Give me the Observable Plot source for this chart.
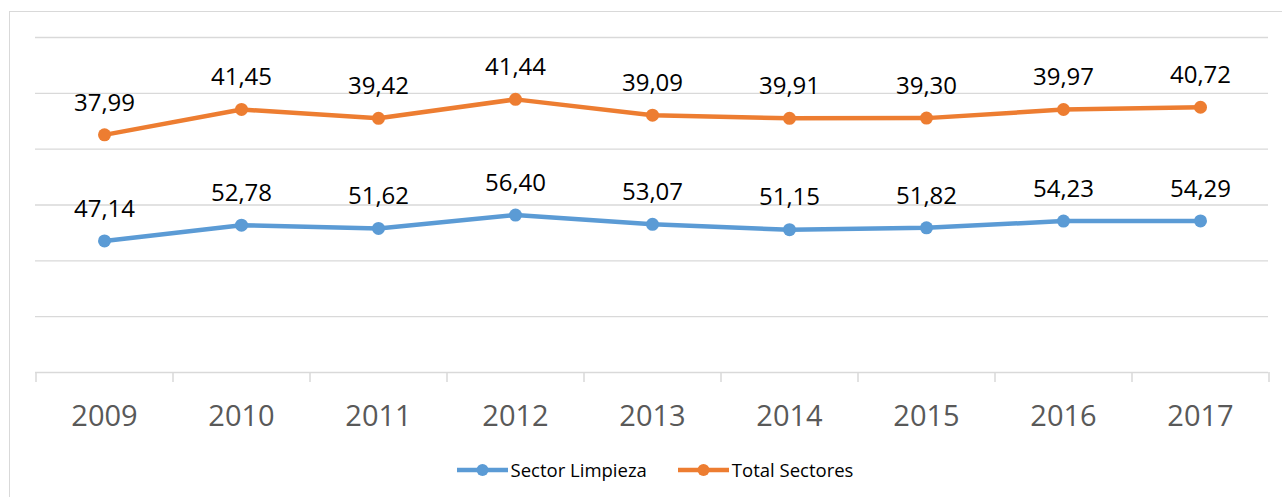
<!DOCTYPE html>
<html>
<head>
<meta charset="utf-8">
<script src="https://cdn.jsdelivr.net/npm/d3@7"></script>
<script src="https://cdn.jsdelivr.net/npm/@observablehq/plot@0.6"></script>
<style>
  html, body { margin: 0; padding: 0; background: #fff; }
  body { width: 1282px; height: 497px; overflow: hidden; position: relative; font-family: "Open Sans", sans-serif; }
  #frame { position: absolute; left: 9px; top: 11px; width: 1300px; height: 520px; border: 1px solid #d9d9d9; box-sizing: border-box; pointer-events: none; }
  #chart { position: absolute; left: 0; top: 0; }
  #legend { position: absolute; left: 0; top: 457px; width: 1282px; display: flex; justify-content: center; gap: 31px; padding-left: 28px; box-sizing: border-box; font-size: 18.5px; color: #000; }
  .item { display: flex; align-items: center; gap: 3px; }
</style>
</head>
<body>
<div id="frame"></div>
<div id="chart"></div>
<div id="legend"></div>
<script>
const years = ["2009","2010","2011","2012","2013","2014","2015","2016","2017"];
const seriesNames = ["Sector Limpieza", "Total Sectores"];
const seriesColors = ["#5B9BD5", "#ED7D31"];
const sectorLimpieza = [47.14, 52.78, 51.62, 56.40, 53.07, 51.15, 51.82, 54.23, 54.29];
const totalSectores = [37.99, 41.45, 39.42, 41.44, 39.09, 39.91, 39.30, 39.97, 40.72];
const yTicks = [0, 20, 40, 60, 80, 100, 120];

const data = [];
[sectorLimpieza, totalSectores].forEach((vals, i) => {
  vals.forEach((v, j) => data.push({year: years[j], value: v, series: seriesNames[i]}));
});
const fmt = v => v.toFixed(2).replace(".", ",");

const W = 1282, mL = 35, mR = 14;
const step = (W - mL - mR) / years.length;

const chart = Plot.plot({
  width: W,
  height: 440,
  marginLeft: mL,
  marginRight: mR,
  marginTop: 37,
  marginBottom: 68,
  style: {fontFamily: "Open Sans, sans-serif", background: "transparent", overflow: "visible"},
  x: {type: "point", domain: years, padding: 0.5, label: null},
  y: {domain: [0, 120], axis: null, label: null},
  color: {domain: seriesNames, range: seriesColors},
  marks: [
    Plot.ruleY(yTicks.slice(1), {stroke: "#d9d9d9", strokeWidth: 1.3, strokeOpacity: 1}),
    Plot.ruleY([0], {stroke: "#d9d9d9", strokeWidth: 1.5, strokeOpacity: 1}),
    Plot.axisX({tickSize: 10, dx: -step / 2, tickFormat: () => "", label: null, stroke: "#d9d9d9", strokeWidth: 1.5, strokeOpacity: 1}),
    Plot.axisX({ticks: [years[years.length - 1]], tickSize: 10, dx: step / 2, tickFormat: () => "", label: null, stroke: "#d9d9d9", strokeWidth: 1.5, strokeOpacity: 1}),
    Plot.axisX({tickSize: 0, tickPadding: 33, fontSize: 29, fill: "#595959", label: null}),
    Plot.lineY(data, Plot.stackY2({x: "year", y: "value", z: "series", stroke: "series", strokeWidth: 4.5, curve: "linear"})),
    Plot.dot(data, Plot.stackY2({x: "year", y: "value", z: "series", fill: "series", r: 6.5})),
    Plot.text(data, Plot.stackY2({x: "year", y: "value", z: "series", text: d => fmt(d.value), dy: -32, fontSize: 24, fill: "#000"}))
  ]
});
document.getElementById("chart").appendChild(chart);

const legend = document.getElementById("legend");
seriesNames.forEach((name, i) => {
  const item = document.createElement("div");
  item.className = "item";
  item.innerHTML = `<svg width="51" height="14"><line x1="0" x2="51" y1="7" y2="7" stroke="${seriesColors[i]}" stroke-width="4.5" stroke-linecap="round"/><circle cx="25.5" cy="7" r="6" fill="${seriesColors[i]}"/></svg><span>${name}</span>`;
  legend.appendChild(item);
});
</script>
</body>
</html>
